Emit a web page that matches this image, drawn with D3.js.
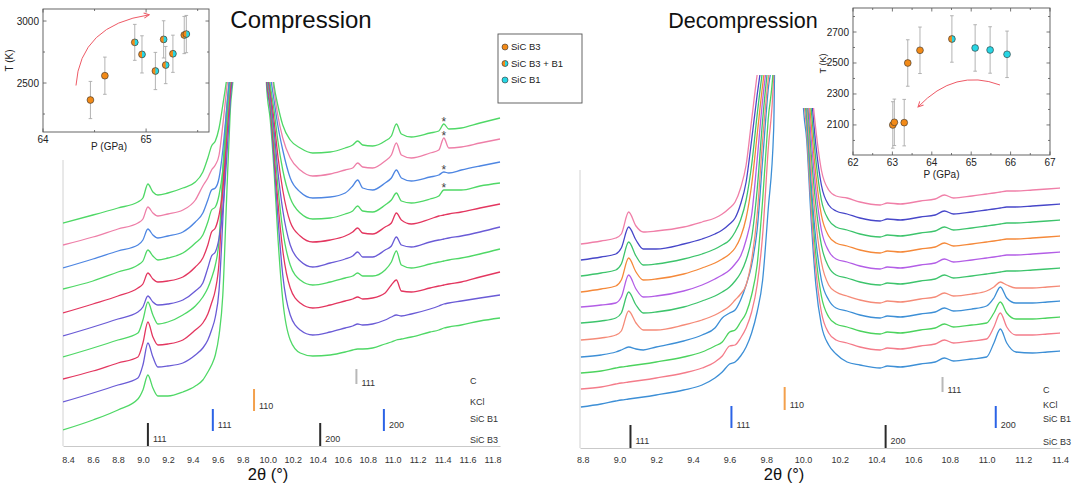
<!DOCTYPE html>
<html><head><meta charset="utf-8">
<script src="https://cdn.jsdelivr.net/npm/d3@7/dist/d3.min.js"></script>
<style>html,body{margin:0;padding:0;background:#fff}svg{display:block}</style>
</head><body>
<svg id="chart" width="1088" height="489"></svg>
<script>
// ================= DATA =================
const compTicks = [8.4,8.6,8.8,9.0,9.2,9.4,9.6,9.8,10.0,10.2,10.4,10.6,10.8,11.0,11.2,11.4,11.6,11.8];
const decompTicks = [8.8,9.0,9.2,9.4,9.6,9.8,10.0,10.2,10.4,10.6,10.8,11.0,11.2,11.4];

// Compression patterns (2theta grid, intensity in arbitrary offset units, top pattern first)
const compTwoTheta = [8.36,8.6,8.8,8.96,9.0,9.04,9.08,9.12,9.2,9.32,9.42,9.48,9.52,9.55,9.58,9.61,9.64,9.67,9.70,9.73,9.86,9.99,10.02,10.05,10.08,10.12,10.18,10.26,10.36,10.5,10.62,10.68,10.72,10.76,10.84,10.94,10.99,11.03,11.07,11.15,11.3,11.37,11.41,11.45,11.55,11.7,11.86];
const comp1 = [223,231,238,244,248,262,254,251,253,258,264,274,288,300,305,318,341,366,396,426,2000,426,396,361,341,321,306,298,293,294,298,301,305,301,300,305,310,322,312,309,313,315,322,317,318,323,328];
const comp2 = [201,209,217,223,227,239,233,230,232,236,246,260,268,276,281,291,321,356,391,426,2000,411,386,356,331,308,288,276,270,272,276,278,283,279,278,285,291,303,291,288,293,296,308,298,299,303,307];
const comp3 = [178,187,195,201,206,217,211,208,210,214,224,233,246,256,258,268,296,336,376,416,2000,401,371,346,321,296,268,254,248,249,253,260,266,258,256,263,268,276,268,265,269,271,274,273,276,280,284];
const comp4 = [157,165,174,181,185,196,190,186,188,193,203,211,224,236,239,251,276,321,366,406,2000,391,361,336,306,276,248,233,227,228,232,235,240,235,234,241,246,253,245,243,247,250,256,256,256,260,263];
const comp5 = [133,142,150,158,162,173,167,164,165,169,179,188,201,214,218,231,256,306,356,401,2000,386,356,326,291,256,224,210,204,206,210,214,218,213,212,219,223,233,226,222,227,230,231,232,234,238,242];
const comp6 = [110,119,127,134,139,150,144,141,142,146,155,163,178,190,194,208,236,286,346,396,2000,381,351,316,276,236,201,185,179,183,187,190,194,189,189,196,200,209,201,199,204,206,207,208,210,214,219];
const comp7 = [89,98,106,113,126,144,131,122,124,131,140,149,158,168,181,206,276,336,376,416,2000,376,346,306,261,216,181,166,161,164,168,170,173,170,170,176,184,195,181,178,182,184,185,186,188,192,197];
const comp8 = [67,75,83,89,103,124,109,101,102,106,116,123,132,143,156,184,261,326,371,411,2000,371,341,296,246,196,158,143,138,141,145,147,149,147,148,153,161,166,155,154,158,160,161,162,164,169,174];
const comp9 = [44,53,61,68,81,103,89,79,80,83,91,98,106,116,129,156,226,306,356,401,2000,366,336,286,231,171,131,116,111,114,118,120,122,121,122,126,129,131,130,132,137,140,142,143,145,148,151];
const comp10 = [16,26,36,47,56,71,58,50,50,54,60,66,74,81,91,111,151,246,336,386,2000,361,326,276,211,146,106,93,90,91,94,96,97,97,98,102,104,106,107,109,114,116,118,119,121,125,128];
const compStarred = [0,1,2,3];
const compStarTwoTheta = 11.41;

// Decompression patterns (top pattern first)
const decompTwoTheta = [8.79,8.9,8.98,9.01,9.05,9.09,9.13,9.2,9.35,9.45,9.52,9.56,9.6,9.63,9.66,9.69,9.72,9.75,9.78,9.81,9.84,9.9,9.96,10.0,10.02,10.045,10.07,10.1,10.14,10.18,10.24,10.31,10.42,10.46,10.53,10.64,10.72,10.77,10.82,10.92,11.0,11.04,11.075,11.11,11.16,11.25,11.33,11.4];
const decomp1 = [204,207,210,214,236,222,216,217,221,226,230,234,240,246,260,283,328,373,408,438,468,2000,1500,428,408,363,318,278,258,252,250,246,243,245,244,247,249,253,250,252,254,255,256,257,257,258,259,260];
const decomp2 = [188,191,194,200,221,208,199,199,204,209,214,218,224,230,244,266,308,353,393,428,458,2000,1500,423,398,353,303,263,243,237,234,230,227,229,228,231,233,237,234,236,238,239,240,241,241,242,243,244];
const decomp3 = [172,175,178,184,206,192,183,184,189,194,199,203,208,216,228,248,283,333,378,413,443,2000,1500,418,388,338,288,248,228,221,218,214,211,213,212,215,217,221,218,220,222,223,224,225,225,226,227,228];
const decomp4 = [156,159,162,168,190,176,168,169,174,180,185,189,194,200,211,230,263,313,363,403,433,2000,1500,413,378,323,273,233,212,205,202,198,195,197,196,199,201,205,202,204,206,207,208,209,209,210,211,212];
const decomp5 = [141,143,145,151,173,159,151,152,157,163,169,173,178,184,192,208,233,288,348,393,423,2000,1500,408,368,308,258,218,197,189,186,182,179,181,180,183,185,189,186,188,190,191,192,193,193,194,195,196];
const decomp6 = [125,127,130,135,156,143,135,136,141,147,152,156,161,167,175,188,210,258,328,383,418,2000,1500,403,358,293,243,203,181,173,170,166,163,165,164,167,169,173,170,172,174,175,176,177,177,178,179,180];
const decomp7 = [108,110,113,117,137,125,118,118,123,128,133,137,142,148,154,163,188,233,308,368,408,2000,1500,393,348,278,226,186,163,156,152,148,145,147,146,149,151,155,152,154,157,161,166,163,160,160,161,162];
const decomp8 = [91,93,96,98,101,99,98,101,107,113,120,130,135,138,148,163,183,218,288,358,403,2000,1500,383,338,263,208,168,148,140,137,133,130,132,131,134,136,140,137,139,142,150,161,150,145,145,146,147];
const decomp9 = [75,77,80,81,82,83,84,86,91,96,102,106,116,118,126,135,153,183,248,328,388,2000,1500,373,328,253,193,152,131,124,121,117,114,116,115,118,120,124,121,123,125,135,146,135,129,129,130,131];
const decomp10 = [59,61,64,65,66,67,68,70,75,80,86,92,102,103,110,120,136,163,213,298,373,2000,1500,363,318,238,178,136,115,108,105,101,98,100,99,102,104,108,105,107,109,121,135,121,113,113,114,115];
const decomp11 = [41,44,47,48,49,50,51,53,58,63,70,76,84,86,92,101,115,136,168,238,318,2000,1500,348,308,226,163,123,103,94,86,83,80,82,81,84,86,90,87,89,91,105,119,105,96,95,96,97];

// Reference reflections
const refPhaseNames = ["C", "KCl", "SiC B1", "SiC B3"];
const refPhase = ["C", "KCl", "SiC B1", "SiC B1", "SiC B3", "SiC B3"];
const refHkl = ["111", "110", "111", "200", "111", "200"];
const compRefPos = [10.71, 9.89, 9.56, 10.93, 9.04, 10.42];
const decompRefPos = [10.76, 9.90, 9.61, 11.05, 9.06, 10.45];

// Insets: P (GPa), T (K)
const compP = [64.46, 64.60, 64.89, 64.96, 65.09, 65.17, 65.19, 65.26, 65.37, 65.39];
const compT = [2363, 2559, 2828, 2731, 2597, 2852, 2645, 2736, 2887, 2895];
const compErr = [150, 150, 145, 150, 150, 150, 150, 150, 150, 150];
const compPhase = ["B3", "B3", "B3+B1", "B3+B1", "B3+B1", "B3+B1", "B3+B1", "B3+B1", "B3+B1", "B3+B1"];
const compArrowP = [64.32, 64.36, 65.03];
const compArrowT = [2480, 2968, 3050];
const compInsetPTicks = [64, 65];
const compInsetPMinor = [64.5, 65.5];
const compInsetTTicks = [2500, 3000];
const compInsetTMinor = [2250, 2750];

const decompP = [63.01, 63.05, 63.30, 63.39, 63.70, 64.51, 65.10, 65.48, 65.91];
const decompT = [2100, 2117, 2115, 2500, 2582, 2655, 2597, 2584, 2556];
const decompErr = [150, 150, 150, 150, 150, 150, 150, 150, 150];
const decompPhase = ["B3", "B3", "B3", "B3", "B3", "B3+B1", "B1", "B1", "B1"];
const decompArrowP = [65.73, 64.59, 63.65];
const decompArrowT = [2358, 2468, 2216];
const decompInsetPTicks = [62, 63, 64, 65, 66, 67];
const decompInsetPMinor = [62.5, 63.5, 64.5, 65.5, 66.5];
const decompInsetTTicks = [2100, 2300, 2500, 2700];
const decompInsetTMinor = [2000, 2200, 2400, 2600, 2800];

const legendLabels = ["SiC B3", "SiC B3 + B1", "SiC B1"];
const legendPhase = ["B3", "B3+B1", "B1"];

// ================= STYLE =================
const FONT = "'Liberation Sans', Arial, Helvetica, sans-serif";
const G = "#4fd866", PK = "#ee7fa8", BL = "#4e86e2", CR = "#e3365f", PU = "#6a5bd6";
const compColors = [G, PK, BL, G, CR, PU, G, CR, PU, G];
const decompColors = ["#f07fa8", "#4747c9", "#3dc46c", "#f5893a", "#b35ee6", "#3dc46c", "#f58b78", "#3d8fd6", "#4cd35e", "#f47c8a", "#3d8fd6"];
const refColor = {"C": "#b8b8b8", "KCl": "#f3a04c", "SiC B1": "#2b63e6", "SiC B3": "#2a2a2a"};
const ORANGE = "#f28a17", CYAN = "#27d6e4";

const compSeries = [comp1, comp2, comp3, comp4, comp5, comp6, comp7, comp8, comp9, comp10];
const decompSeries = [decomp1, decomp2, decomp3, decomp4, decomp5, decomp6, decomp7, decomp8, decomp9, decomp10, decomp11];

// ================= DRAW =================
const svg = d3.select("#chart").attr("font-family", FONT);
const defs = svg.append("defs");
defs.append("clipPath").attr("id", "clipComp").append("rect")
  .attr("x", 63).attr("y", 82).attr("width", 440).attr("height", 364);
defs.append("clipPath").attr("id", "clipDecomp").append("path")
  .attr("d", "M580,75H790V108H1066V448H580Z");
defs.append("marker").attr("id", "a1").attr("viewBox", "0 0 8 8").attr("refX", 7).attr("refY", 4)
  .attr("markerWidth", 7).attr("markerHeight", 7).attr("orient", "auto")
  .append("path").attr("d", "M1,1L7,4L1,7").attr("fill", "none").attr("stroke", "#ee5a66").attr("stroke-width", 1.1);

const xC = d3.scaleLinear().domain([8.36, 11.86]).range([63, 500]);
const yC = d3.scaleLinear().domain([0, 364]).range([446, 82]);
const xD = d3.scaleLinear().domain([8.785, 11.4]).range([580, 1060]);
const yD = d3.scaleLinear().domain([0, 373]).range([448, 75]);

function drawPatterns(tt, series, colors, x, y, clip) {
  const line = d3.line().x((d, i) => x(tt[i])).y(d => y(d)).curve(d3.curveMonotoneX);
  svg.append("g").attr("clip-path", `url(#${clip})`)
    .selectAll("path").data(series.slice().reverse()).join("path")
    .attr("d", d => line(d)).attr("fill", "none")
    .attr("stroke", (d, i) => colors[series.length - 1 - i])
    .attr("stroke-width", 1.3).attr("stroke-linejoin", "round");
}

function drawAxis(x, yPos, ticks, pad, vTop, vX) {
  const ax = svg.append("g").attr("transform", `translate(0,${yPos})`)
    .call(d3.axisBottom(x).tickValues(ticks).tickFormat(d3.format(".1f")).tickSize(0).tickPadding(pad));
  ax.attr("font-family", FONT).attr("font-size", 9);
  ax.select(".domain").attr("stroke", "#c9c9c9");
  ax.selectAll("text").attr("fill", "#333");
  svg.append("line").attr("x1", vX).attr("x2", vX).attr("y1", vTop).attr("y2", yPos)
    .attr("stroke", "#d2d2d2");
}

function drawRefs(x, pos, band, hklY, phaseX, phaseY, fs) {
  const g = svg.append("g");
  pos.forEach((p, i) => {
    const ph = refPhase[i];
    g.append("line").attr("x1", x(p)).attr("x2", x(p)).attr("y1", band[ph][0]).attr("y2", band[ph][1])
      .attr("stroke", refColor[ph]).attr("stroke-width", 2);
    g.append("text").attr("x", x(p) + 5).attr("y", hklY[ph]).attr("font-size", fs).attr("fill", "#333").text(refHkl[i]);
  });
  refPhaseNames.forEach(n => {
    g.append("text").attr("x", phaseX).attr("y", phaseY[n]).attr("font-size", fs).attr("fill", "#333").text(n);
  });
}

// Compression panel
drawAxis(xC, 446, compTicks, 11, 160, 63);
drawPatterns(compTwoTheta, compSeries, compColors, xC, yC, "clipComp");
const si = compTwoTheta.indexOf(compStarTwoTheta);
compStarred.forEach(k => {
  svg.append("text").attr("x", xC(compStarTwoTheta)).attr("y", yC(compSeries[k][si]) + 2)
    .attr("text-anchor", "middle").attr("font-size", 12).attr("fill", "#444").text("*");
});
drawRefs(xC, compRefPos,
  {"C": [369, 384], "KCl": [389, 411], "SiC B1": [409, 431], "SiC B3": [423, 446]},
  {"C": 386, "KCl": 409, "SiC B1": 428, "SiC B3": 442},
  470, {"C": 384, "KCl": 405, "SiC B1": 422, "SiC B3": 443}, 9);
svg.append("text").attr("x", 268).attr("y", 480).attr("text-anchor", "middle").attr("font-size", 16.5).attr("fill", "#111").text("2θ (°)");
svg.append("text").attr("x", 301).attr("y", 28).attr("text-anchor", "middle").attr("font-size", 24).attr("fill", "#111").text("Compression");

// Decompression panel
drawAxis(xD, 448, decompTicks, 9, 170, 580);
drawPatterns(decompTwoTheta, decompSeries, decompColors, xD, yD, "clipDecomp");
drawRefs(xD, decompRefPos,
  {"C": [377, 392], "KCl": [387, 410], "SiC B1": [406, 428], "SiC B3": [425, 448]},
  {"C": 393, "KCl": 408, "SiC B1": 428, "SiC B3": 444},
  1043, {"C": 393, "KCl": 408, "SiC B1": 422, "SiC B3": 445}, 9);
svg.append("text").attr("x", 784).attr("y", 480).attr("text-anchor", "middle").attr("font-size", 16.5).attr("fill", "#111").text("2θ (°)");
svg.append("text").attr("x", 743).attr("y", 28).attr("text-anchor", "middle").attr("font-size", 21.5).attr("fill", "#111").text("Decompression");

// Insets
const halfArc = d3.arc()({innerRadius: 0, outerRadius: 3.4, startAngle: 0, endAngle: Math.PI});
function marker(g, cx, cy, phase, r) {
  const c = phase === "B1" ? CYAN : ORANGE;
  g.append("circle").attr("cx", cx).attr("cy", cy).attr("r", r).attr("fill", c);
  if (phase === "B3+B1") {
    g.append("path").attr("transform", `translate(${cx},${cy}) scale(${r / 3.4})`).attr("d", halfArc).attr("fill", CYAN);
  }
  g.append("circle").attr("cx", cx).attr("cy", cy).attr("r", r).attr("fill", "none").attr("stroke", "#333").attr("stroke-width", 0.6);
}

function inset(o) {
  const g = svg.append("g");
  const x = d3.scaleLinear().domain(o.px).range(o.rx);
  const y = d3.scaleLinear().domain(o.py).range(o.ry);
  const [x0, x1] = o.rx, [y0, y1] = [o.ry[1], o.ry[0]];
  g.append("rect").attr("x", x0).attr("y", y0).attr("width", x1 - x0).attr("height", y1 - y0)
    .attr("fill", "#fff").attr("stroke", "#555").attr("stroke-width", 0.9);
  const tk = (v, len, isX) => {
    if (isX) {
      g.append("line").attr("x1", x(v)).attr("x2", x(v)).attr("y1", y1).attr("y2", y1 - len).attr("stroke", "#555").attr("stroke-width", 0.8);
      g.append("line").attr("x1", x(v)).attr("x2", x(v)).attr("y1", y0).attr("y2", y0 + len).attr("stroke", "#555").attr("stroke-width", 0.8);
    } else {
      g.append("line").attr("x1", x0).attr("x2", x0 + len).attr("y1", y(v)).attr("y2", y(v)).attr("stroke", "#555").attr("stroke-width", 0.8);
      g.append("line").attr("x1", x1).attr("x2", x1 - len).attr("y1", y(v)).attr("y2", y(v)).attr("stroke", "#555").attr("stroke-width", 0.8);
    }
  };
  o.pt.forEach(v => tk(v, 3.5, true));
  o.pm.forEach(v => tk(v, 2, true));
  o.tt.forEach(v => tk(v, 3.5, false));
  o.tm.forEach(v => tk(v, 2, false));
  o.pt.forEach(v => g.append("text").attr("x", x(v)).attr("y", o.pLabelY).attr("text-anchor", "middle").attr("font-size", 10).attr("fill", "#222").text(v));
  o.tt.forEach(v => g.append("text").attr("x", x0 - 4).attr("y", y(v)).attr("dy", "0.35em").attr("text-anchor", "end").attr("font-size", 10).attr("fill", "#222").text(v));
  g.append("text").attr("x", (x0 + x1) / 2 + o.pTitleDx).attr("y", o.pTitleY).attr("text-anchor", "middle").attr("font-size", 10).attr("fill", "#222").text("P (GPa)");
  g.append("text").attr("transform", `translate(${o.tTitleX},${(y0 + y1) / 2 + o.tTitleDy}) rotate(-90)`).attr("text-anchor", "middle").attr("font-size", o.tTitleFs).attr("fill", "#222").text("T (K)");
  const ap = d3.path();
  ap.moveTo(x(o.aP[0]), y(o.aT[0]));
  ap.quadraticCurveTo(x(o.aP[1]), y(o.aT[1]), x(o.aP[2]), y(o.aT[2]));
  g.append("path").attr("d", ap.toString()).attr("fill", "none").attr("stroke", "#ee5a66").attr("stroke-width", 1).attr("marker-end", "url(#a1)");
  o.P.forEach((p, i) => {
    const cx = x(p), ya = y(o.T[i] + o.E[i]), yb = y(o.T[i] - o.E[i]);
    g.append("line").attr("x1", cx).attr("x2", cx).attr("y1", ya).attr("y2", yb).attr("stroke", "#aaa").attr("stroke-width", 0.9);
    [ya, yb].forEach(yy => g.append("line").attr("x1", cx - 1.8).attr("x2", cx + 1.8).attr("y1", yy).attr("y2", yy).attr("stroke", "#aaa").attr("stroke-width", 0.9));
  });
  o.P.forEach((p, i) => marker(g, x(p), y(o.T[i]), o.ph[i], 3.4));
}

inset({px: [64, 65.61], rx: [43, 209], py: [2105, 3097], ry: [132, 9],
  pt: compInsetPTicks, pm: compInsetPMinor, tt: compInsetTTicks, tm: compInsetTMinor,
  pLabelY: 143, pTitleY: 150, pTitleDx: -17, tTitleX: 13, tTitleDy: -10, tTitleFs: 10,
  P: compP, T: compT, E: compErr, ph: compPhase, aP: compArrowP, aT: compArrowT});
inset({px: [62, 67], rx: [853, 1050], py: [1906, 2855], ry: [155, 8],
  pt: decompInsetPTicks, pm: decompInsetPMinor, tt: decompInsetTTicks, tm: decompInsetTMinor,
  pLabelY: 166, pTitleY: 178, pTitleDx: -10, tTitleX: 826, tTitleDy: -18, tTitleFs: 9,
  P: decompP, T: decompT, E: decompErr, ph: decompPhase, aP: decompArrowP, aT: decompArrowT});

// Legend
const lg = svg.append("g");
lg.append("rect").attr("x", 498).attr("y", 34).attr("width", 84).attr("height", 69).attr("fill", "#fff").attr("stroke", "#555").attr("stroke-width", 0.9);
legendLabels.forEach((l, i) => {
  marker(lg, 505, 47 + i * 16.5, legendPhase[i], 3);
  lg.append("text").attr("x", 511).attr("y", 47 + i * 16.5).attr("dy", "0.35em").attr("font-size", 9.5).attr("fill", "#222").text(l);
});
</script>
</body></html>
